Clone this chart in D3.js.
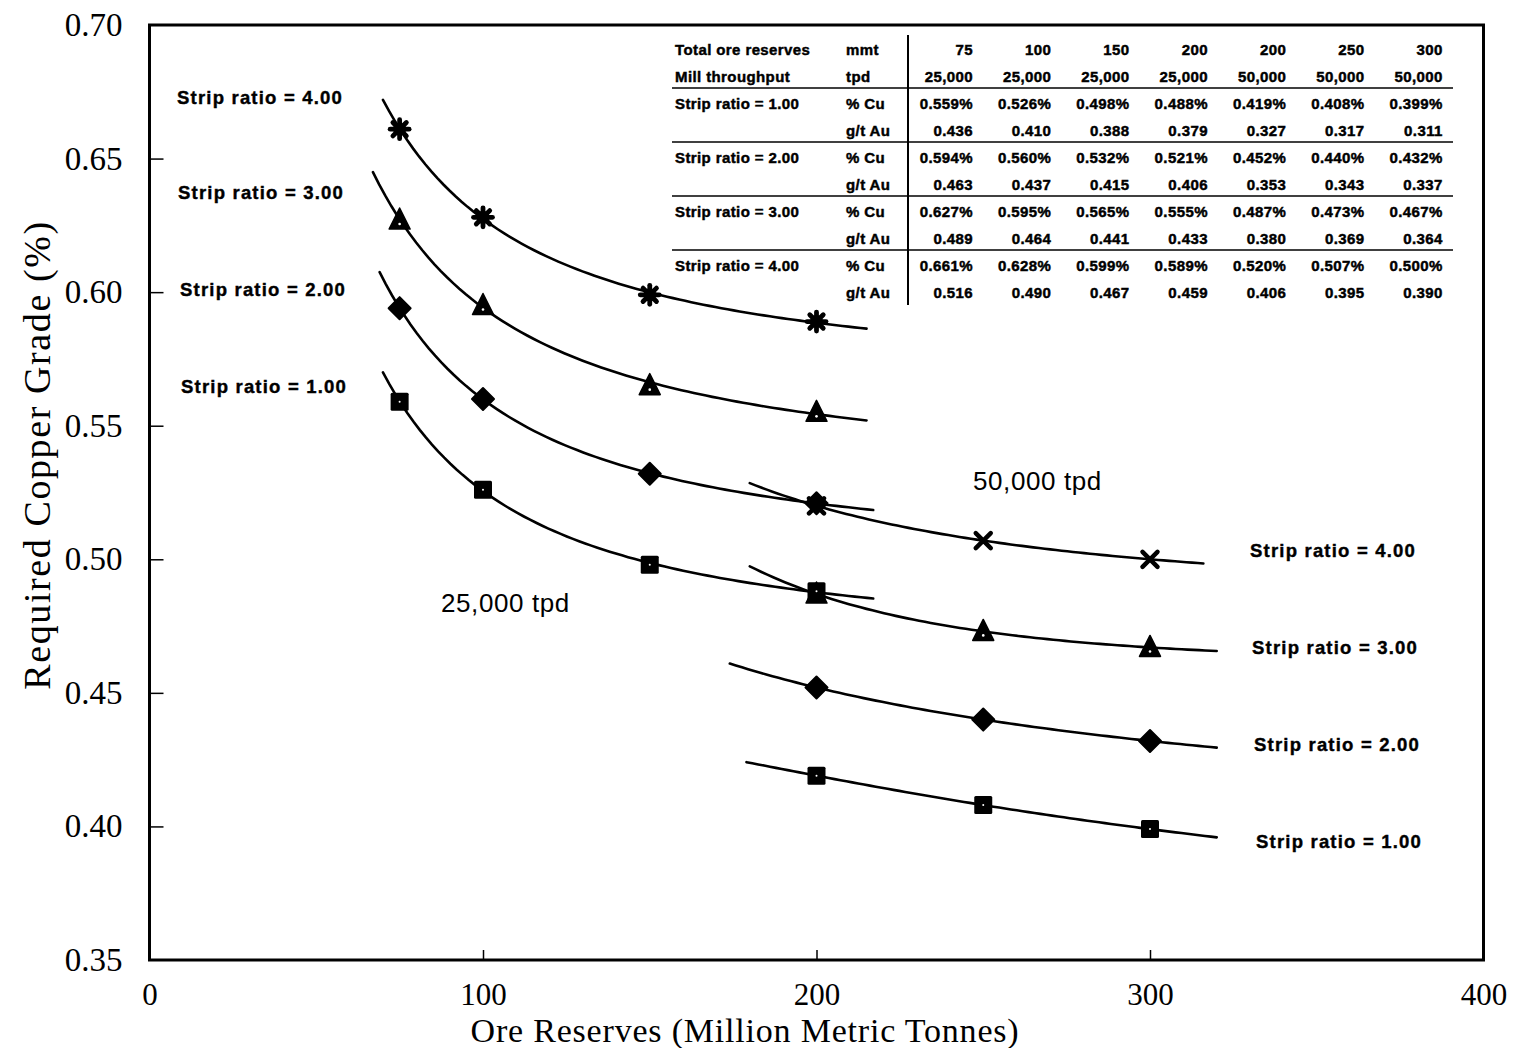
<!DOCTYPE html>
<html>
<head>
<meta charset="utf-8">
<script src="https://cdn.jsdelivr.net/npm/d3@7"></script>
<style>
  html, body { margin: 0; padding: 0; background: #fff; }
  svg { display: block; }
  .serif { font-family: "Liberation Serif", "Times New Roman", serif; }
  .sans { font-family: "Liberation Sans", Arial, Helvetica, sans-serif; }
</style>
</head>
<body>
<svg id="chart" width="1518" height="1048"></svg>
<script>
// ---- Data ----------------------------------------------------------------
// Total ore reserves (million metric tonnes) and mill throughput (tpd) per case
const reserves   = [75, 100, 150, 200, 200, 250, 300];
const throughput = [25000, 25000, 25000, 25000, 50000, 50000, 50000];

// Required copper grade (% Cu) for each strip ratio
const cuStrip1 = [0.559, 0.526, 0.498, 0.488, 0.419, 0.408, 0.399];
const cuStrip2 = [0.594, 0.560, 0.532, 0.521, 0.452, 0.440, 0.432];
const cuStrip3 = [0.627, 0.595, 0.565, 0.555, 0.487, 0.473, 0.467];
const cuStrip4 = [0.661, 0.628, 0.599, 0.589, 0.520, 0.507, 0.500];

// Equivalent gold grade (g/t Au) for each strip ratio
const auStrip1 = [0.436, 0.410, 0.388, 0.379, 0.327, 0.317, 0.311];
const auStrip2 = [0.463, 0.437, 0.415, 0.406, 0.353, 0.343, 0.337];
const auStrip3 = [0.489, 0.464, 0.441, 0.433, 0.380, 0.369, 0.364];
const auStrip4 = [0.516, 0.490, 0.467, 0.459, 0.406, 0.395, 0.390];

const stripRatios = [1, 2, 3, 4];

// Reserve range covered by each fitted trend curve (strip ratio 1..4)
const span25k = [[70, 217], [69, 217], [67, 215], [70, 215]];
const span50k = [[179, 320], [174, 320], [180, 320], [180, 316]];

// Axis ticks
const xTicks = [0, 100, 200, 300, 400];
const yTicks = [0.35, 0.40, 0.45, 0.50, 0.55, 0.60, 0.65, 0.70];

// ---- Setup ---------------------------------------------------------------
const cuBySR = [cuStrip1, cuStrip2, cuStrip3, cuStrip4];
const auBySR = [auStrip1, auStrip2, auStrip3, auStrip4];

const svg = d3.select("#chart");
const x = d3.scaleLinear().domain([0, 400]).range([149.5, 1483.5]);
const y = d3.scaleLinear().domain([0.35, 0.70]).range([960, 25]);

// Least-squares fit of grade = a + b*u + c*u^2 with u = 100/reserves
function fitCurve(xs, ys) {
  const n = 3, A = [[0,0,0],[0,0,0],[0,0,0]], B = [0,0,0];
  xs.forEach((xv, i) => {
    const u = 100 / xv, row = [1, u, u * u];
    for (let r = 0; r < n; r++) {
      B[r] += row[r] * ys[i];
      for (let c = 0; c < n; c++) A[r][c] += row[r] * row[c];
    }
  });
  for (let p = 0; p < n; p++) {
    let m = p;
    for (let r = p + 1; r < n; r++) if (Math.abs(A[r][p]) > Math.abs(A[m][p])) m = r;
    [A[p], A[m]] = [A[m], A[p]]; [B[p], B[m]] = [B[m], B[p]];
    for (let r = p + 1; r < n; r++) {
      const f = A[r][p] / A[p][p];
      for (let c = p; c < n; c++) A[r][c] -= f * A[p][c];
      B[r] -= f * B[p];
    }
  }
  const s = [0, 0, 0];
  for (let r = n - 1; r >= 0; r--) {
    let v = B[r];
    for (let c = r + 1; c < n; c++) v -= A[r][c] * s[c];
    s[r] = v / A[r][r];
  }
  return xv => { const u = 100 / xv; return s[0] + s[1] * u + s[2] * u * u; };
}

// Build series: one per strip ratio and throughput
const series = [];
stripRatios.forEach((sr, k) => {
  [25000, 50000].forEach(tpd => {
    const idx = throughput.map((t, i) => t === tpd ? i : -1).filter(i => i >= 0);
    series.push({
      sr, tpd,
      points: idx.map(i => ({ x: reserves[i], y: cuBySR[k][i] })),
      span: tpd === 25000 ? span25k[k] : span50k[k]
    });
  });
});

const line = d3.line().x(d => x(d[0])).y(d => y(d[1]));

// ---- Trend curves --------------------------------------------------------
const gCurves = svg.append("g");
series.forEach(s => {
  const f = fitCurve(s.points.map(p => p.x), s.points.map(p => p.y));
  const samples = d3.range(0, 81).map(i => {
    const xv = s.span[0] + (s.span[1] - s.span[0]) * i / 80;
    return [xv, f(xv)];
  });
  gCurves.append("path")
    .attr("d", line(samples))
    .attr("fill", "none")
    .attr("stroke", "#000")
    .attr("stroke-width", 2.6)
    .attr("stroke-linecap", "round");
});

// ---- Markers -------------------------------------------------------------
const gMarks = svg.append("g");
function drawMarker(g, kind, cx, cy) {
  const m = g.append("g").attr("transform", `translate(${cx},${cy})`);
  if (kind === "square") {
    m.append("rect").attr("x", -9).attr("y", -9).attr("width", 18).attr("height", 18)
      .attr("rx", 1.5).attr("fill", "#000");
    m.append("circle").attr("r", 1).attr("fill", "#fff");
  } else if (kind === "diamond") {
    m.append("path").attr("d", "M0,-11 L11,0 L0,11 L-11,0Z")
      .attr("fill", "#000").attr("stroke", "#000").attr("stroke-width", 2)
      .attr("stroke-linejoin", "round");
  } else if (kind === "triangle") {
    m.append("path").attr("d", "M0,-12 L10.5,9 L-10.5,9Z")
      .attr("fill", "#000").attr("stroke", "#000").attr("stroke-width", 1.5)
      .attr("stroke-linejoin", "round");
    m.append("circle").attr("cy", 4).attr("r", 1.3).attr("fill", "#fff");
  } else if (kind === "asterisk") {
    const r = 9.5;
    [0, 45, 90, 135].forEach(a => {
      const t = a * Math.PI / 180;
      m.append("line")
        .attr("x1", -r * Math.cos(t)).attr("y1", -r * Math.sin(t))
        .attr("x2", r * Math.cos(t)).attr("y2", r * Math.sin(t))
        .attr("stroke", "#000").attr("stroke-width", 4.8).attr("stroke-linecap", "round");
    });
    m.append("circle").attr("r", 6.5).attr("fill", "#000");
  } else if (kind === "times") {
    const r = 7.5;
    m.append("path").attr("d", `M${-r},${-r} L${r},${r} M${r},${-r} L${-r},${r}`)
      .attr("stroke", "#000").attr("stroke-width", 4.5).attr("stroke-linecap", "round");
  }
}
const markerKind = (sr, tpd) =>
  sr === 1 ? "square" : sr === 2 ? "diamond" : sr === 3 ? "triangle"
  : (tpd === 25000 ? "asterisk" : "times");

// draw 50,000 tpd first so the 25,000 tpd markers sit on top where they coincide
series.filter(s => s.tpd === 50000).concat(series.filter(s => s.tpd === 25000))
  .forEach(s => s.points.forEach(p =>
    drawMarker(gMarks, markerKind(s.sr, s.tpd), x(p.x), y(p.y))));

// ---- Frame and axes ------------------------------------------------------
svg.append("rect")
  .attr("x", x(0)).attr("y", y(0.70))
  .attr("width", x(400) - x(0)).attr("height", y(0.35) - y(0.70))
  .attr("fill", "none").attr("stroke", "#000").attr("stroke-width", 3);

const yAxis = d3.axisLeft(y).tickValues(yTicks).tickFormat(d3.format(".2f"))
  .tickSizeInner(-14).tickSizeOuter(0).tickPadding(27);
const gy = svg.append("g").attr("transform", `translate(${x(0)},0)`).call(yAxis);
gy.select(".domain").remove();
gy.selectAll(".tick line").attr("stroke-width", 1.5)
  .filter(d => d === 0.35 || d === 0.70).remove();
gy.selectAll(".tick text").attr("class", "serif").attr("font-size", 33)
  .attr("font-family", null).attr("fill", "#000");

const xAxis = d3.axisBottom(x).tickValues(xTicks).tickFormat(d3.format("d"))
  .tickSizeInner(-10).tickSizeOuter(0).tickPadding(23);
const gx = svg.append("g").attr("transform", `translate(0,${y(0.35)})`).call(xAxis);
gx.select(".domain").remove();
gx.selectAll(".tick line").attr("stroke-width", 1.5)
  .filter(d => d === 0 || d === 400).remove();
gx.selectAll(".tick text").attr("class", "serif").attr("font-size", 31)
  .attr("font-family", null).attr("fill", "#000");

svg.append("text").attr("class", "serif")
  .attr("x", 745).attr("y", 1042).attr("text-anchor", "middle")
  .attr("font-size", 34).attr("letter-spacing", 0.8)
  .text("Ore Reserves (Million Metric Tonnes)");
svg.append("text").attr("class", "serif")
  .attr("transform", "translate(50,455) rotate(-90)").attr("text-anchor", "middle")
  .attr("font-size", 38).attr("letter-spacing", 1.6)
  .text("Required Copper Grade (%)");

// ---- Curve labels --------------------------------------------------------
const srFmt = d3.format(".2f");
const leftLabelY = [387, 290, 193, 98];
const rightLabelY = [842, 745, 648, 551];
const rightLabelX = [1256, 1254, 1252, 1250];
const leftLabelX = [181, 180, 178, 177];
function curveLabel(xp, yp, txt) {
  svg.append("text").attr("class", "sans").attr("font-weight", "bold")
    .attr("font-size", 18.5).attr("letter-spacing", 1.2)
    .attr("stroke", "#000").attr("stroke-width", 0.4)
    .attr("x", xp).attr("y", yp).attr("dy", "0.35em").text(txt);
}
stripRatios.forEach((sr, k) => {
  curveLabel(leftLabelX[k], leftLabelY[k], `Strip ratio = ${srFmt(sr)}`);
  curveLabel(rightLabelX[k], rightLabelY[k], `Strip ratio = ${srFmt(sr)}`);
});
const tpdFmt = d3.format(",");
svg.append("text").attr("class", "sans").attr("font-size", 26).attr("letter-spacing", 0.6)
  .attr("x", 441).attr("y", 603).attr("dy", "0.35em").text(`${tpdFmt(25000)} tpd`);
svg.append("text").attr("class", "sans").attr("font-size", 26).attr("letter-spacing", 0.6)
  .attr("x", 973).attr("y", 481).attr("dy", "0.35em").text(`${tpdFmt(50000)} tpd`);

// ---- Data table ----------------------------------------------------------
const gT = svg.append("g").attr("class", "sans").attr("font-weight", "bold")
  .attr("font-size", 15).attr("letter-spacing", 0.4)
  .attr("stroke", "#000").attr("stroke-width", 0.45);
const rowY = i => 50 + i * 27;
const colX = i => 973 + i * 78.3;
const pct = d => d3.format(".3f")(d) + "%";
const f3 = d3.format(".3f");
const rows = [
  { label: "Total ore reserves", unit: "mmt", vals: reserves.map(d3.format("d")) },
  { label: "Mill throughput", unit: "tpd", vals: throughput.map(tpdFmt) }
];
stripRatios.forEach((sr, k) => {
  rows.push({ label: `Strip ratio = ${srFmt(sr)}`, unit: "% Cu", vals: cuBySR[k].map(pct) });
  rows.push({ label: "", unit: "g/t Au", vals: auBySR[k].map(f3) });
});
rows.forEach((r, i) => {
  gT.append("text").attr("x", 675).attr("y", rowY(i)).attr("dy", "0.36em").text(r.label);
  gT.append("text").attr("x", 846).attr("y", rowY(i)).attr("dy", "0.36em").text(r.unit);
  r.vals.forEach((v, j) => {
    gT.append("text").attr("x", colX(j)).attr("y", rowY(i)).attr("dy", "0.36em")
      .attr("text-anchor", "end").text(v);
  });
});
[1, 3, 5, 7].forEach(i => {
  gT.append("line").attr("x1", 672).attr("x2", 1453)
    .attr("y1", rowY(i) + 11).attr("y2", rowY(i) + 11)
    .attr("stroke-width", 1.6);
});
gT.append("line").attr("x1", 908).attr("x2", 908).attr("y1", 35).attr("y2", 305)
  .attr("stroke-width", 2);
</script>
</body>
</html>
